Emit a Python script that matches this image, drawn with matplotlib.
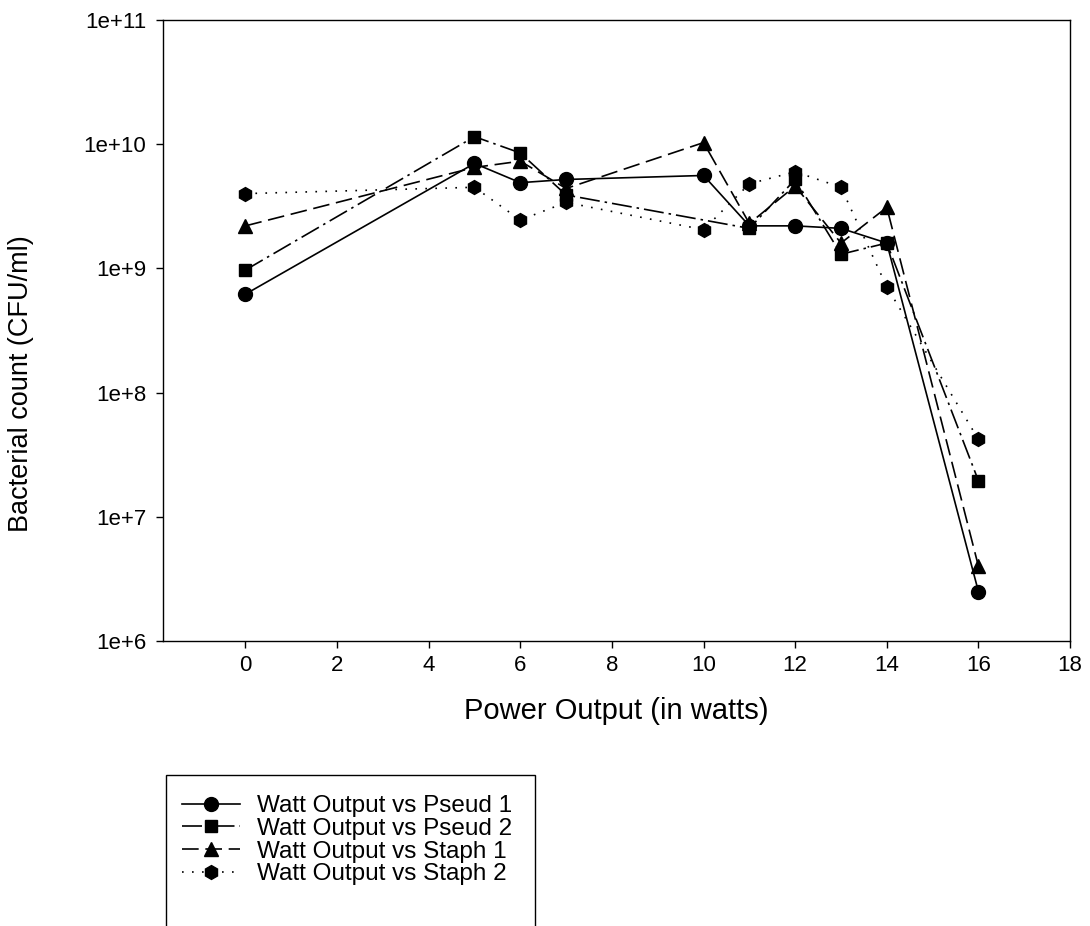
import math
import matplotlib
matplotlib.use("Agg")
import matplotlib.pyplot as plt
from matplotlib.patches import Rectangle
from matplotlib.ticker import FixedLocator, FuncFormatter, NullLocator

plt.rcParams['font.family'] = ['Liberation Sans', 'DejaVu Sans']

# data
watts = [0, 5, 6, 7, 10, 11, 12, 13, 14, 16]
watts_pseud2 = [0, 5, 6, 7, 11, 12, 13, 14, 16]
pseud1 = [6.2e8, 7.0e9, 4.9e9, 5.2e9, 5.6e9, 2.2e9, 2.2e9, 2.1e9, 1.6e9, 2.5e6]
pseud2 = [9.7e8, 1.15e10, 8.5e9, 3.9e9, 2.1e9, 5.2e9, 1.3e9, 1.6e9, 1.95e7]
staph1 = [2.2e9, 6.5e9, 7.3e9, 4.4e9, 1.03e10, 2.3e9, 4.6e9, 1.6e9, 3.1e9, 4.0e6]
staph2 = [4.0e9, 4.5e9, 2.45e9, 3.4e9, 2.05e9, 4.8e9, 6.0e9, 4.5e9, 7.1e8, 4.2e7]

labels = ["Watt Output vs Pseud 1", "Watt Output vs Pseud 2",
          "Watt Output vs Staph 1", "Watt Output vs Staph 2"]
x_ticks = [0, 2, 4, 6, 8, 10, 12, 14, 16, 18]
y_ticks = [1e6, 1e7, 1e8, 1e9, 1e10, 1e11]


def sci_label(v, pos):
    return "1e+%d" % round(math.log10(v))


fig = plt.figure(figsize=(10.9, 9.26), dpi=100)
ax = fig.add_axes([0.1495, 0.3078, 0.8322, 0.6706])

lw = 1.2
ax.plot(watts, pseud1, color='black', lw=lw, linestyle='-',
        marker='o', markersize=10, label=labels[0])
ax.plot(watts_pseud2, pseud2, color='black', lw=lw, linestyle=(0, (12, 3, 1.5, 3)),
        marker='s', markersize=9, label=labels[1])
ax.plot(watts, staph1, color='black', lw=lw, linestyle=(0, (10, 4)),
        marker='^', markersize=10, label=labels[2])
ax.plot(watts, staph2, color='black', lw=lw, linestyle=(0, (1, 5)),
        marker='h', markersize=10, label=labels[3])

ax.set_yscale('log')
ax.set_xlim(-1.8, 18)
ax.set_ylim(1e6, 1e11)
ax.xaxis.set_major_locator(FixedLocator(x_ticks))
ax.yaxis.set_major_locator(FixedLocator(y_ticks))
ax.yaxis.set_major_formatter(FuncFormatter(sci_label))
ax.yaxis.set_minor_locator(NullLocator())
ax.tick_params(axis='both', direction='out', length=5, width=1,
               labelsize=16, top=False, right=False)
ax.tick_params(axis='x', pad=5)
ax.tick_params(axis='y', pad=7)
for s in ax.spines.values():
    s.set_linewidth(1)

ax.set_xlabel("Power Output (in watts)", fontsize=21, labelpad=15)
ax.set_ylabel("Bacterial count (CFU/ml)", fontsize=19.5)
ax.yaxis.set_label_coords(-0.142, 0.415)

leg = fig.legend(loc='upper left', bbox_to_anchor=(0.1514, 1 - 778 / 926),
                 frameon=False, fontsize=17.5, handlelength=2.4,
                 labelspacing=0.03, handletextpad=0.7, borderpad=0.2)
fig.add_artist(Rectangle((166 / 1090, -0.05), (535 - 166) / 1090, (1 - 775 / 926) + 0.05,
                         transform=fig.transFigure, fill=False,
                         edgecolor='black', lw=1, clip_on=False))

fig.savefig("out.png", dpi=100)
